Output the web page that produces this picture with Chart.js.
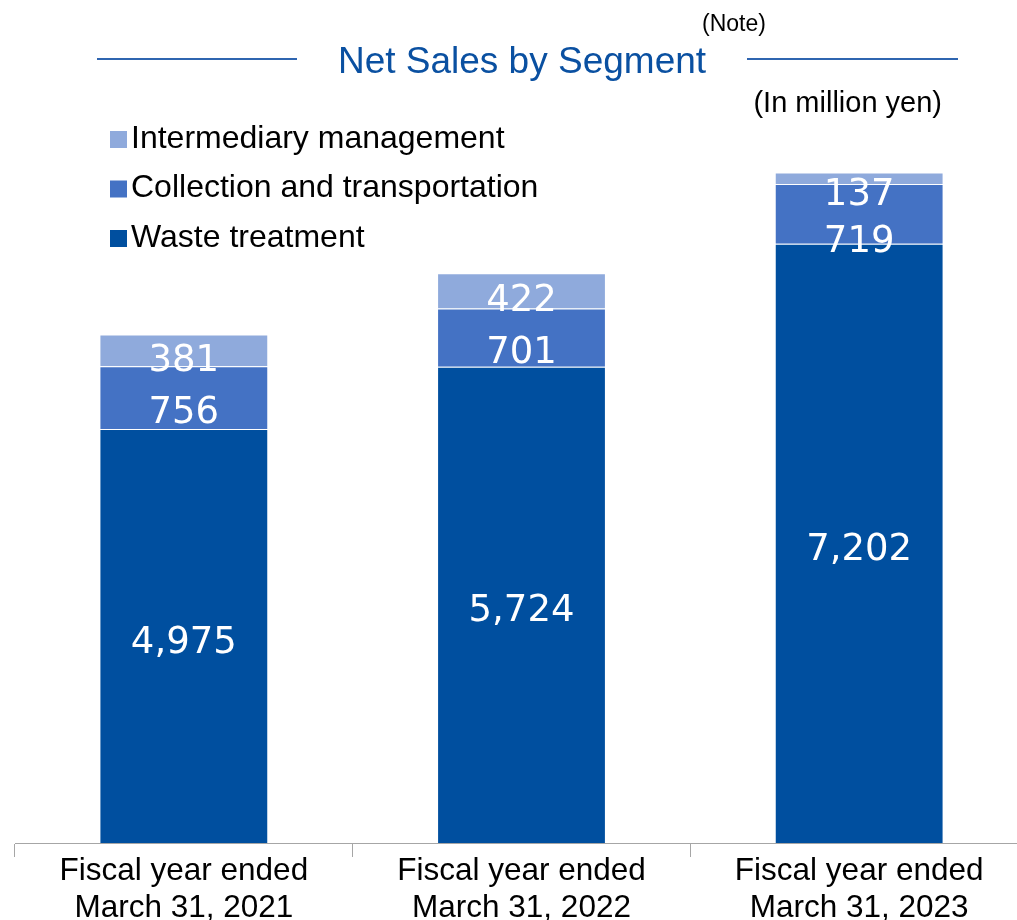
<!DOCTYPE html>
<html>
<head>
<meta charset="utf-8">
<script src="https://cdn.jsdelivr.net/npm/chart.js@4/dist/chart.umd.min.js"></script>
<style>
  body { margin: 0; background: #fff; overflow: hidden; }
  #wrap { width: 1017px; height: 920px; overflow: hidden; }
</style>
</head>
<body>
<div id="wrap"><canvas id="sales" width="1030" height="920"></canvas></div>
<script>
// values in million yen
const years = [
  ['Fiscal year ended', 'March 31, 2021'],
  ['Fiscal year ended', 'March 31, 2022'],
  ['Fiscal year ended', 'March 31, 2023']
];
const segmentNames = ['Waste treatment', 'Collection and transportation', 'Intermediary management'];
const wasteTreatment = [4975, 5724, 7202];
const collection = [756, 701, 719];
const intermediary = [381, 422, 137];
const colors = ['#004f9f', '#4472c4', '#8faadc'];

const fmt = v => v.toLocaleString('en-US');

// header: title with side rules, note and unit
const headerPlugin = {
  id: 'header',
  afterDraw(chart) {
    const ctx = chart.ctx;
    ctx.save();
    ctx.strokeStyle = '#2f65b0';
    ctx.lineWidth = 2;
    ctx.beginPath();
    ctx.moveTo(97, 59); ctx.lineTo(297, 59);
    ctx.moveTo(747, 59); ctx.lineTo(958, 59);
    ctx.stroke();

    ctx.fillStyle = '#0a50a1';
    ctx.font = '37px "Liberation Sans", Arial, sans-serif';
    ctx.textAlign = 'center';
    ctx.textBaseline = 'alphabetic';
    ctx.fillText('Net Sales by Segment', 522, 73);

    ctx.fillStyle = '#000';
    ctx.textAlign = 'left';
    ctx.font = '23px "Liberation Sans", Arial, sans-serif';
    ctx.fillText('(Note)', 702, 31);

    ctx.textAlign = 'right';
    ctx.font = '29px "Liberation Sans", Arial, sans-serif';
    ctx.fillText('(In million yen)', 942, 112);
    ctx.restore();
  }
};

// vertical legend at top left, top segment first
const legendPlugin = {
  id: 'sideLegend',
  afterDraw(chart) {
    const ctx = chart.ctx;
    const sets = chart.data.datasets.slice().reverse();
    ctx.save();
    ctx.font = '32px "Liberation Sans", Arial, sans-serif';
    ctx.textBaseline = 'middle';
    ctx.textAlign = 'left';
    sets.forEach((ds, i) => {
      const y = 139 + i * 49.5;
      ctx.fillStyle = ds.backgroundColor;
      ctx.fillRect(110, y - 8, 17, 17);
      ctx.fillStyle = '#000';
      ctx.fillText(ds.label, 131, y);
    });
    ctx.restore();
  }
};

// value labels inside segments, kept inside the bar and pushed apart
const labelNudge = [7, 16, 11];
const valueLabels = {
  id: 'valueLabels',
  afterDatasetsDraw(chart) {
    const ctx = chart.ctx;
    const n = chart.data.labels.length;
    ctx.save();
    ctx.fillStyle = '#fff';
    ctx.font = '37px "DejaVu Sans", Verdana, sans-serif';
    ctx.textAlign = 'center';
    ctx.textBaseline = 'middle';
    for (let i = 0; i < n; i++) {
      const items = [];
      let top = Infinity;
      chart.data.datasets.forEach((ds, d) => {
        const el = chart.getDatasetMeta(d).data[i];
        top = Math.min(top, el.y);
        items.push({ x: el.x, y: (el.y + el.base) / 2 + labelNudge[d], text: fmt(ds.data[i]) });
      });
      items.sort((a, b) => a.y - b.y);
      items[0].y = Math.max(items[0].y, top + 23);
      for (let k = 1; k < items.length; k++) {
        if (items[k].y - items[k - 1].y < 47) items[k].y = items[k - 1].y + 47;
      }
      items.forEach(it => ctx.fillText(it.text, it.x, it.y));
    }
    ctx.restore();
  }
};

const datasets = [wasteTreatment, collection, intermediary].map((vals, i) => ({
  label: segmentNames[i],
  data: vals,
  backgroundColor: colors[i],
  borderColor: 'rgba(255,255,255,0.45)',
  borderWidth: 1,
  borderSkipped: 'bottom'
}));

new Chart(document.getElementById('sales'), {
  type: 'bar',
  data: { labels: years, datasets: datasets },
  plugins: [headerPlugin, legendPlugin, valueLabels],
  options: {
    responsive: false,
    devicePixelRatio: 1,
    animation: false,
    layout: { padding: { left: 15, right: 2, top: 11, bottom: 0 } },
    datasets: { bar: { barPercentage: 0.5, categoryPercentage: 1 } },
    plugins: {
      legend: { display: false },
      tooltip: { enabled: false }
    },
    scales: {
      x: {
        stacked: true,
        grid: {
          offset: true,
          drawOnChartArea: false,
          drawTicks: true,
          tickLength: 14,
          color: '#a6a6a6'
        },
        border: { color: '#a6a6a6', width: 1 },
        ticks: {
          color: '#000',
          padding: -4,
          maxRotation: 0,
          font: { family: '"Liberation Sans", Arial, sans-serif', size: 31.5, lineHeight: 1.18 }
        },
        afterFit(scale) { scale.height = 77; }
      },
      y: {
        stacked: true,
        display: false,
        min: 0,
        max: 10000
      }
    }
  }
});
</script>
</body>
</html>
